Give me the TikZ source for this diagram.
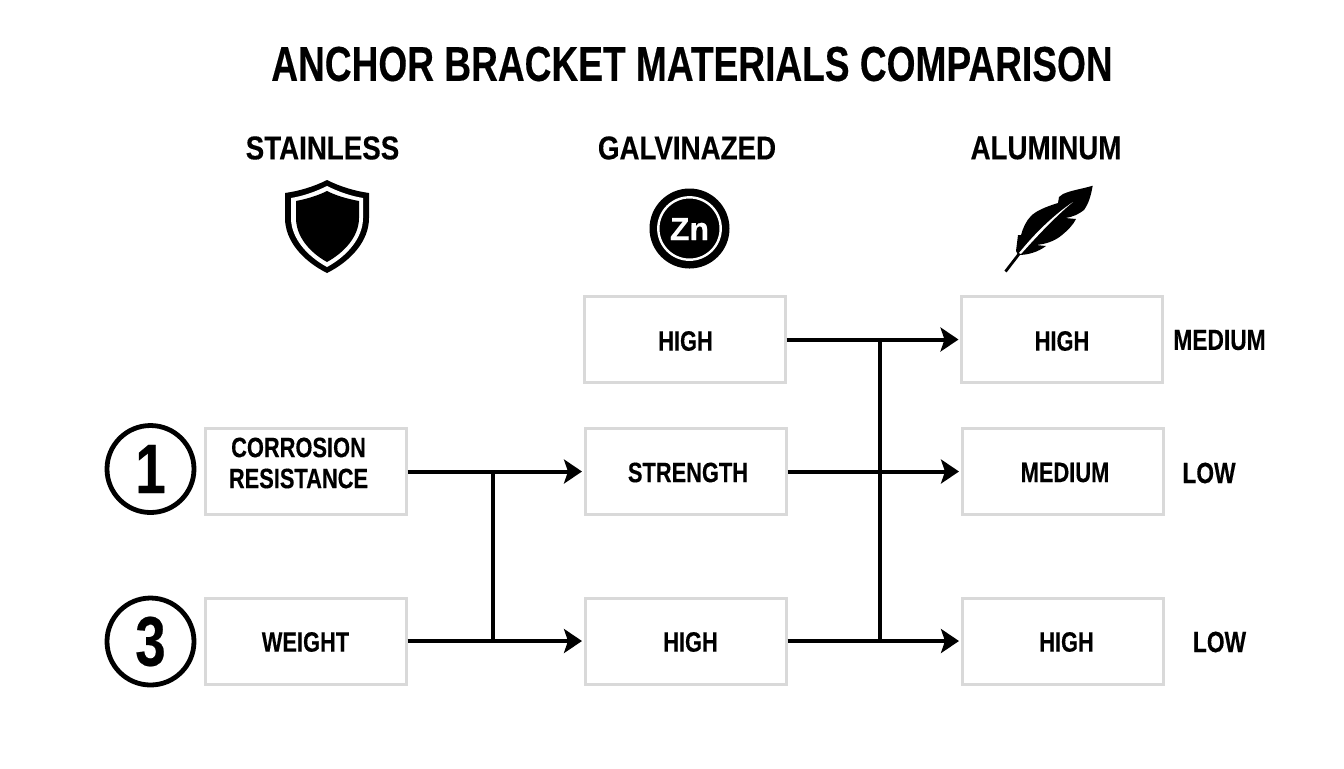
\documentclass[tikz,border=0pt]{standalone}
\usepackage{fontspec}
\setmainfont[FakeBold=.3]{Liberation Sans}
\newfontfamily\titlefont[FakeStretch=.757,FakeBold=.3]{Liberation Sans}
\newfontfamily\headfont[FakeStretch=.84,FakeBold=.3]{Liberation Sans}
\newfontfamily\boxfont[FakeStretch=.78,FakeBold=.3]{Liberation Sans}
\usetikzlibrary{arrows.meta}

\tikzset{
	matbox/.style={draw=black!15, line width=1.5pt, minimum width=100.5pt, minimum height=43pt, inner sep=0pt},
	boxtext/.style={align=center, inner sep=0pt, font=\boxfont\fontsize{14}{15.5}\selectfont\bfseries},
	sidetext/.style={font=\boxfont\fontsize{14.6}{16}\selectfont\bfseries},
	headtext/.style={font=\headfont\fontsize{16.5}{18}\selectfont\bfseries},
	numring/.style={circle, draw, line width=2.4pt, minimum size=43.5pt, inner sep=0pt, font=\boxfont\fontsize{35}{36}\selectfont\bfseries},
	link/.style={line width=2pt, shorten >=.75pt, -{Stealth[length=9pt,width=12pt,inset=2pt]}},
	bar/.style={line width=2pt}
}

\begin{document}
\begin{tikzpicture}[x=.5pt,y=-.5pt]
	\useasboundingbox[fill=white] (0,0) rectangle (1344,768);

	\node[font=\titlefont\fontsize{24.5}{28}\selectfont\bfseries] (title) at (692,64) {ANCHOR BRACKET MATERIALS COMPARISON};

	\node[headtext] (stainless) at (322.5,148) {STAINLESS};
	\node[headtext] (galvanized) at (687,148) {GALVINAZED};
	\node[headtext] (aluminum) at (1046,148) {ALUMINUM};

	% shield
	\fill (327,180) .. controls (341,187) and (355,191) .. (369,193) -- (369,218) .. controls (369,241) and (351,261) .. (327,273) .. controls (303,261) and (285,241) .. (285,218) -- (285,193) .. controls (299,191) and (313,187) .. (327,180) -- cycle;
	\fill[white] (327,186) .. controls (339,192) and (351,196) .. (363,198) -- (363,218) .. controls (363,238) and (347,256) .. (327,267) .. controls (307,256) and (291,238) .. (291,218) -- (291,198) .. controls (303,196) and (315,192) .. (327,186) -- cycle;
	\fill (327,191) .. controls (337,196) and (348,199) .. (359,201) -- (359,218) .. controls (359,236) and (345,252) .. (327,262) .. controls (309,252) and (296,236) .. (296,218) -- (296,201) .. controls (306,199) and (317,196) .. (327,191) -- cycle;

	% coin
	\fill (689.5,228.5) circle (20pt);
	\draw[white, line width=1.2pt] (689.5,228.5) circle (15.6pt);
	\node[white, font=\fontsize{16}{16}\selectfont\bfseries] (zinc) at (689.5,229) {Zn};

	% feather
	\fill (1092.7,185.7) .. controls (1082,189) and (1072,190) .. (1063,194) -- (1059,197) -- (1058,203) .. controls (1045,207) and (1036,211) .. (1031,216) .. controls (1026,221) and (1023,228) .. (1021,235) -- (1018,235) -- (1016,251) -- (1018,255) .. controls (1028,255) and (1038,252) .. (1046,246) -- (1036,245) .. controls (1046,244) and (1055,241) .. (1062,235) .. controls (1068,230) and (1073,225) .. (1076,219) -- (1065,218) .. controls (1073,217) and (1079,214) .. (1084,210) .. controls (1089,203) and (1091,195) .. (1092.7,185.7) -- cycle;
	\fill[white] (1073,202) .. controls (1055,214) and (1035,233) .. (1019,253) -- (1021,254) .. controls (1038,235) and (1056,216) .. (1073,202) -- cycle;
	\draw[line width=1.4pt] (1019,254) -- (1005.5,271.5);

	\node[numring] (one) at (150.5,469) {1};
	\node[numring] (three) at (150.5,641.5) {3};

	\node[matbox, label={[boxtext,xshift=-3.5pt,yshift=4.25pt]center:CORROSION\\RESISTANCE}] (corrosion) at (305.5,471.5) {};
	\node[matbox, label={[boxtext,yshift=-.5pt]center:WEIGHT}] (weight) at (305.5,641) {};

	\node[matbox, label={[boxtext,xshift=.5pt,yshift=-.75pt]center:HIGH}] (galvhigh) at (684.5,339.5) {};
	\node[matbox, label={[boxtext,xshift=1.25pt,yshift=-.5pt]center:STRENGTH}] (strength) at (685.5,471.5) {};
	\node[matbox, label={[boxtext,xshift=2.5pt,yshift=-.5pt]center:HIGH}] (galvlow) at (685.5,641) {};

	\node[matbox, label={[boxtext,yshift=-.75pt]center:HIGH}] (alutop) at (1062,339.5) {};
	\node[matbox, label={[boxtext,xshift=1.25pt,yshift=-.5pt]center:MEDIUM}] (alumid) at (1062.5,471.5) {};
	\node[matbox, label={[boxtext,xshift=2pt,yshift=-.5pt]center:HIGH}] (alulow) at (1062.5,641) {};

	\node[sidetext] (sidetop) at (1219.5,340) {MEDIUM};
	\node[sidetext] (sidemid) at (1209,473) {LOW};
	\node[sidetext] (sidelow) at (1219.5,642) {LOW};

	\draw[link] (corrosion) -- (strength);
	\draw[link] (weight) -- (galvlow);
	\draw[link] (galvhigh) -- (alutop);
	\draw[link] (strength) -- (alumid);
	\draw[link] (galvlow) -- (alulow);

	\coordinate (jointa) at (493,471.5);
	\coordinate (jointb) at (493,641);
	\coordinate (jointc) at (880,339.5);
	\coordinate (jointd) at (880,641);
	\draw[bar] (jointa) -- (jointb);
	\draw[bar] (jointc) -- (jointd);
\end{tikzpicture}
\end{document}
